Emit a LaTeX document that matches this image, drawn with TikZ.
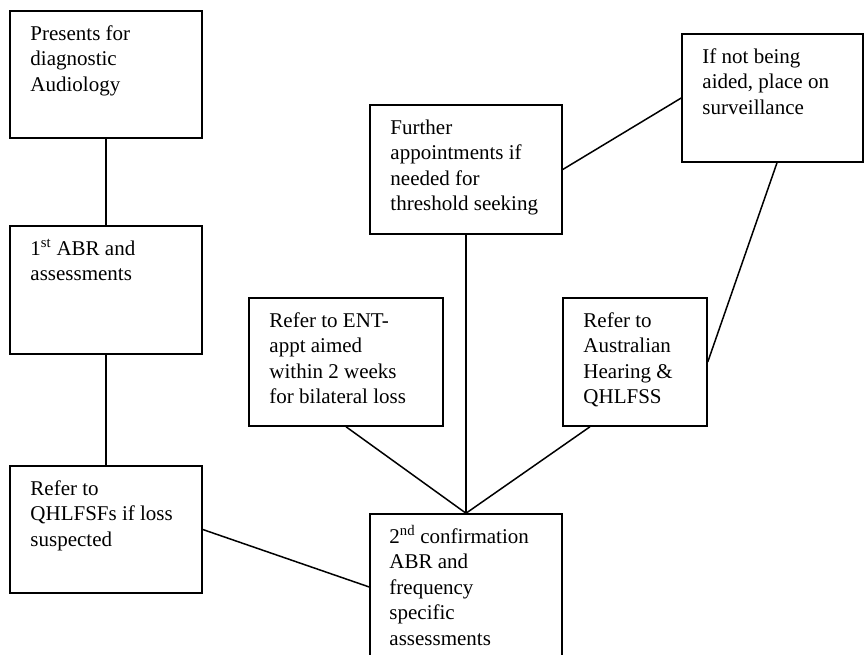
\documentclass[tikz,border=0pt]{standalone}
\usepackage{fontspec}
\setmainfont{Liberation Serif}
\usetikzlibrary{calc}
\tikzset{
  box/.style={draw=black, line width=1.5pt, rectangle, inner sep=0pt},
  txt/.style={anchor=north west, inner sep=0pt, align=left,
    font=\fontsize{21}{25.5}\selectfont},
  link/.style={draw=black, line width=1.5pt},
}
\newcommand{\boxtext}[2]{\node[txt] at ([xshift=21pt,yshift=-12.15pt]#1.north west) {\strut #2};}
\begin{document}
\begin{tikzpicture}[x=1pt,y=1pt]
\clip (0,0) rectangle (864,655);
\fill[white] (0,0) rectangle (864,655);
% boxes
\node[box, minimum width=192pt, minimum height=127pt] (b1) at (106,580.5) {};
\node[box, minimum width=192pt, minimum height=128pt] (b2) at (106,365) {};
\node[box, minimum width=192pt, minimum height=127pt] (b3) at (106,125.5) {};
\node[box, minimum width=192pt, minimum height=176pt] (conf) at (466,53) {};
\node[box, minimum width=194pt, minimum height=128pt] (ent) at (346,293) {};
\node[box, minimum width=192pt, minimum height=129pt] (fur) at (466,485.5) {};
\node[box, minimum width=144pt, minimum height=128pt] (aus) at (635,293) {};
\node[box, minimum width=181pt, minimum height=128pt] (ifn) at (772.5,557) {};
% texts
\boxtext{b1}{Presents for\\diagnostic\\Audiology}
\boxtext{b2}{1\textsuperscript{st} ABR and\\assessments}
\boxtext{b3}{Refer to\\QHLFSFs if loss\\suspected}
\node[txt] at ([xshift=20pt,yshift=-12.15pt]conf.north west) {\strut 2\textsuperscript{nd} confirmation\\ABR and\\frequency\\specific\\assessments};
\boxtext{ent}{Refer to ENT-\\appt aimed\\within 2 weeks\\for bilateral loss}
\boxtext{fur}{Further\\appointments if\\needed for\\threshold seeking}
\boxtext{aus}{Refer to\\Australian\\Hearing \&\\QHLFSS}
\boxtext{ifn}{If not being\\aided, place on\\surveillance}
% connectors
\draw[link] (b1.south) -- (b2.north);
\draw[link] (b2.south) -- (b3.north);
\draw[link] (b3.east) -- ([yshift=15pt]conf.west);
\draw[link] (fur.south) -- (conf.north);
\draw[link] (ent.south) -- (conf.north);
\draw[link] ([xshift=-45pt]aus.south) -- (conf.north);
\draw[link] (fur.east) -- (ifn.west);
\draw[link] (aus.east) -- ([xshift=4.5pt]ifn.south);
\end{tikzpicture}
\end{document}
